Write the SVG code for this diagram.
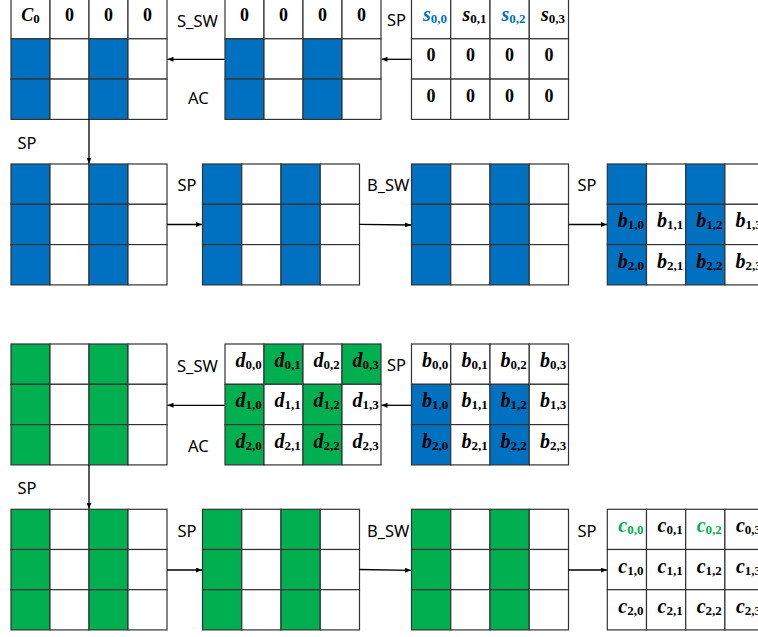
<svg xmlns="http://www.w3.org/2000/svg" width="758" height="637" viewBox="0 0 758 637">
<defs>
<style>
.c{stroke:#333;stroke-width:1.2}
.w{fill:#fff}.b{fill:#0070C0}.g{fill:#00B050}
.lbl{font-family:"Noto Sans","Liberation Sans",sans-serif;font-size:16.5px;fill:#000}
.m{font-family:"Liberation Serif",serif;font-weight:bold;font-size:20px;text-anchor:middle;fill:#000}
.m .v{font-style:italic}
.m .s{font-size:13px}
.z{font-family:"Liberation Serif",serif;font-weight:bold;font-size:18px;text-anchor:middle;fill:#000}
.tb{fill:#0070C0}.tg{fill:#00B050}
.conn path{stroke:#000;stroke-width:1.3;fill:none;marker-end:url(#ah)}
</style>
<marker id="ah" markerWidth="6" markerHeight="5" refX="6" refY="2.5" orient="auto" markerUnits="userSpaceOnUse"><path d="M0,0 L6,2.5 L0,5 z" fill="#000"/></marker>
</defs>
<rect width="758" height="637" fill="#fff"/>

<!-- Row 1 -->
<g id="top-acc">
<rect class="c w" x="11" y="-1.5" width="39" height="40.3"/><rect class="c w" x="50" y="-1.5" width="39" height="40.3"/><rect class="c w" x="89" y="-1.5" width="39" height="40.3"/><rect class="c w" x="128" y="-1.5" width="39" height="40.3"/>
<rect class="c b" x="11" y="38.8" width="39" height="40.3"/><rect class="c w" x="50" y="38.8" width="39" height="40.3"/><rect class="c b" x="89" y="38.8" width="39" height="40.3"/><rect class="c w" x="128" y="38.8" width="39" height="40.3"/>
<rect class="c b" x="11" y="79.1" width="39" height="40.3"/><rect class="c w" x="50" y="79.1" width="39" height="40.3"/><rect class="c b" x="89" y="79.1" width="39" height="40.3"/><rect class="c w" x="128" y="79.1" width="39" height="40.3"/>
<text class="m" x="30.5" y="21" style="font-size:18px"><tspan class="v">C</tspan><tspan class="s" dy="2">0</tspan></text>
<text class="z" x="69.5" y="21">0</text><text class="z" x="108.5" y="21">0</text><text class="z" x="147.5" y="21">0</text>
</g>
<g id="top-ssw">
<rect class="c w" x="225" y="-1.5" width="39" height="40.3"/><rect class="c w" x="264" y="-1.5" width="39" height="40.3"/><rect class="c w" x="303" y="-1.5" width="39" height="40.3"/><rect class="c w" x="342" y="-1.5" width="39" height="40.3"/>
<rect class="c b" x="225" y="38.8" width="39" height="40.3"/><rect class="c w" x="264" y="38.8" width="39" height="40.3"/><rect class="c b" x="303" y="38.8" width="39" height="40.3"/><rect class="c w" x="342" y="38.8" width="39" height="40.3"/>
<rect class="c b" x="225" y="79.1" width="39" height="40.3"/><rect class="c w" x="264" y="79.1" width="39" height="40.3"/><rect class="c b" x="303" y="79.1" width="39" height="40.3"/><rect class="c w" x="342" y="79.1" width="39" height="40.3"/>
<text class="z" x="244.5" y="21">0</text><text class="z" x="283.5" y="21">0</text><text class="z" x="322.5" y="21">0</text><text class="z" x="361.5" y="21">0</text>
</g>
<g id="top-s">
<rect class="c w" x="411.5" y="-1.5" width="39.25" height="40.3"/><rect class="c w" x="450.75" y="-1.5" width="39.25" height="40.3"/><rect class="c w" x="490" y="-1.5" width="39.25" height="40.3"/><rect class="c w" x="529.25" y="-1.5" width="39.25" height="40.3"/>
<rect class="c w" x="411.5" y="38.8" width="39.25" height="40.3"/><rect class="c w" x="450.75" y="38.8" width="39.25" height="40.3"/><rect class="c w" x="490" y="38.8" width="39.25" height="40.3"/><rect class="c w" x="529.25" y="38.8" width="39.25" height="40.3"/>
<rect class="c w" x="411.5" y="79.1" width="39.25" height="40.3"/><rect class="c w" x="450.75" y="79.1" width="39.25" height="40.3"/><rect class="c w" x="490" y="79.1" width="39.25" height="40.3"/><rect class="c w" x="529.25" y="79.1" width="39.25" height="40.3"/>
<text class="m tb" x="435" y="21"><tspan class="v">s</tspan><tspan class="s" dy="2">0,0</tspan></text>
<text class="m" x="474.5" y="21"><tspan class="v">s</tspan><tspan class="s" dy="2">0,1</tspan></text>
<text class="m tb" x="513.5" y="21"><tspan class="v">s</tspan><tspan class="s" dy="2">0,2</tspan></text>
<text class="m" x="553" y="21"><tspan class="v">s</tspan><tspan class="s" dy="2">0,3</tspan></text>
<text class="z" x="431.1" y="61.3">0</text><text class="z" x="470.4" y="61.3">0</text><text class="z" x="509.6" y="61.3">0</text><text class="z" x="548.9" y="61.3">0</text>
<text class="z" x="431.1" y="101.6">0</text><text class="z" x="470.4" y="101.6">0</text><text class="z" x="509.6" y="101.6">0</text><text class="z" x="548.9" y="101.6">0</text>
</g>

<!-- Row 2 -->
<g id="r2-a">
<rect class="c b" x="11" y="164" width="39" height="40.3"/><rect class="c w" x="50" y="164" width="39" height="40.3"/><rect class="c b" x="89" y="164" width="39" height="40.3"/><rect class="c w" x="128" y="164" width="39" height="40.3"/>
<rect class="c b" x="11" y="204.3" width="39" height="40.3"/><rect class="c w" x="50" y="204.3" width="39" height="40.3"/><rect class="c b" x="89" y="204.3" width="39" height="40.3"/><rect class="c w" x="128" y="204.3" width="39" height="40.3"/>
<rect class="c b" x="11" y="244.6" width="39" height="40.3"/><rect class="c w" x="50" y="244.6" width="39" height="40.3"/><rect class="c b" x="89" y="244.6" width="39" height="40.3"/><rect class="c w" x="128" y="244.6" width="39" height="40.3"/>
</g>
<g id="r2-b">
<rect class="c b" x="202.5" y="164" width="39.25" height="40.3"/><rect class="c w" x="241.75" y="164" width="39.25" height="40.3"/><rect class="c b" x="281" y="164" width="39.25" height="40.3"/><rect class="c w" x="320.25" y="164" width="39.25" height="40.3"/>
<rect class="c b" x="202.5" y="204.3" width="39.25" height="40.3"/><rect class="c w" x="241.75" y="204.3" width="39.25" height="40.3"/><rect class="c b" x="281" y="204.3" width="39.25" height="40.3"/><rect class="c w" x="320.25" y="204.3" width="39.25" height="40.3"/>
<rect class="c b" x="202.5" y="244.6" width="39.25" height="40.3"/><rect class="c w" x="241.75" y="244.6" width="39.25" height="40.3"/><rect class="c b" x="281" y="244.6" width="39.25" height="40.3"/><rect class="c w" x="320.25" y="244.6" width="39.25" height="40.3"/>
</g>
<g id="r2-c">
<rect class="c b" x="411.5" y="164" width="39.25" height="40.3"/><rect class="c w" x="450.75" y="164" width="39.25" height="40.3"/><rect class="c b" x="490" y="164" width="39.25" height="40.3"/><rect class="c w" x="529.25" y="164" width="39.25" height="40.3"/>
<rect class="c b" x="411.5" y="204.3" width="39.25" height="40.3"/><rect class="c w" x="450.75" y="204.3" width="39.25" height="40.3"/><rect class="c b" x="490" y="204.3" width="39.25" height="40.3"/><rect class="c w" x="529.25" y="204.3" width="39.25" height="40.3"/>
<rect class="c b" x="411.5" y="244.6" width="39.25" height="40.3"/><rect class="c w" x="450.75" y="244.6" width="39.25" height="40.3"/><rect class="c b" x="490" y="244.6" width="39.25" height="40.3"/><rect class="c w" x="529.25" y="244.6" width="39.25" height="40.3"/>
</g>
<g id="r2-d">
<rect class="c b" x="607.3" y="164" width="39.2" height="40.3"/><rect class="c w" x="646.5" y="164" width="39.2" height="40.3"/><rect class="c b" x="685.7" y="164" width="39.2" height="40.3"/><rect class="c w" x="724.9" y="164" width="39.2" height="40.3"/>
<rect class="c b" x="607.3" y="204.3" width="39.2" height="40.3"/><rect class="c w" x="646.5" y="204.3" width="39.2" height="40.3"/><rect class="c b" x="685.7" y="204.3" width="39.2" height="40.3"/><rect class="c w" x="724.9" y="204.3" width="39.2" height="40.3"/>
<rect class="c b" x="607.3" y="244.6" width="39.2" height="40.3"/><rect class="c w" x="646.5" y="244.6" width="39.2" height="40.3"/><rect class="c b" x="685.7" y="244.6" width="39.2" height="40.3"/><rect class="c w" x="724.9" y="244.6" width="39.2" height="40.3"/>
<text class="m" x="630.9" y="227.3"><tspan class="v">b</tspan><tspan class="s" dy="2">1,0</tspan></text>
<text class="m" x="670.1" y="227.3"><tspan class="v">b</tspan><tspan class="s" dy="2">1,1</tspan></text>
<text class="m" x="709.3" y="227.3"><tspan class="v">b</tspan><tspan class="s" dy="2">1,2</tspan></text>
<text class="m" x="748.5" y="227.3"><tspan class="v">b</tspan><tspan class="s" dy="2">1,3</tspan></text>
<text class="m" x="630.9" y="267.6"><tspan class="v">b</tspan><tspan class="s" dy="2">2,0</tspan></text>
<text class="m" x="670.1" y="267.6"><tspan class="v">b</tspan><tspan class="s" dy="2">2,1</tspan></text>
<text class="m" x="709.3" y="267.6"><tspan class="v">b</tspan><tspan class="s" dy="2">2,2</tspan></text>
<text class="m" x="748.5" y="267.6"><tspan class="v">b</tspan><tspan class="s" dy="2">2,3</tspan></text>
</g>

<!-- Row 3 -->
<g id="r3-a">
<rect class="c g" x="11" y="344" width="39" height="40.3"/><rect class="c w" x="50" y="344" width="39" height="40.3"/><rect class="c g" x="89" y="344" width="39" height="40.3"/><rect class="c w" x="128" y="344" width="39" height="40.3"/>
<rect class="c g" x="11" y="384.3" width="39" height="40.3"/><rect class="c w" x="50" y="384.3" width="39" height="40.3"/><rect class="c g" x="89" y="384.3" width="39" height="40.3"/><rect class="c w" x="128" y="384.3" width="39" height="40.3"/>
<rect class="c g" x="11" y="424.6" width="39" height="40.3"/><rect class="c w" x="50" y="424.6" width="39" height="40.3"/><rect class="c g" x="89" y="424.6" width="39" height="40.3"/><rect class="c w" x="128" y="424.6" width="39" height="40.3"/>
</g>
<g id="r3-d">
<rect class="c w" x="225" y="344" width="39" height="40.3"/><rect class="c g" x="264" y="344" width="39" height="40.3"/><rect class="c w" x="303" y="344" width="39" height="40.3"/><rect class="c g" x="342" y="344" width="39" height="40.3"/>
<rect class="c g" x="225" y="384.3" width="39" height="40.3"/><rect class="c w" x="264" y="384.3" width="39" height="40.3"/><rect class="c g" x="303" y="384.3" width="39" height="40.3"/><rect class="c w" x="342" y="384.3" width="39" height="40.3"/>
<rect class="c g" x="225" y="424.6" width="39" height="40.3"/><rect class="c w" x="264" y="424.6" width="39" height="40.3"/><rect class="c g" x="303" y="424.6" width="39" height="40.3"/><rect class="c w" x="342" y="424.6" width="39" height="40.3"/>
<text class="m" x="248.5" y="367"><tspan class="v">d</tspan><tspan class="s" dy="2">0,0</tspan></text>
<text class="m" x="287.5" y="367"><tspan class="v">d</tspan><tspan class="s" dy="2">0,1</tspan></text>
<text class="m" x="326.5" y="367"><tspan class="v">d</tspan><tspan class="s" dy="2">0,2</tspan></text>
<text class="m" x="365.5" y="367"><tspan class="v">d</tspan><tspan class="s" dy="2">0,3</tspan></text>
<text class="m" x="248.5" y="407.3"><tspan class="v">d</tspan><tspan class="s" dy="2">1,0</tspan></text>
<text class="m" x="287.5" y="407.3"><tspan class="v">d</tspan><tspan class="s" dy="2">1,1</tspan></text>
<text class="m" x="326.5" y="407.3"><tspan class="v">d</tspan><tspan class="s" dy="2">1,2</tspan></text>
<text class="m" x="365.5" y="407.3"><tspan class="v">d</tspan><tspan class="s" dy="2">1,3</tspan></text>
<text class="m" x="248.5" y="447.6"><tspan class="v">d</tspan><tspan class="s" dy="2">2,0</tspan></text>
<text class="m" x="287.5" y="447.6"><tspan class="v">d</tspan><tspan class="s" dy="2">2,1</tspan></text>
<text class="m" x="326.5" y="447.6"><tspan class="v">d</tspan><tspan class="s" dy="2">2,2</tspan></text>
<text class="m" x="365.5" y="447.6"><tspan class="v">d</tspan><tspan class="s" dy="2">2,3</tspan></text>
</g>
<g id="r3-b">
<rect class="c w" x="411.5" y="344" width="39.25" height="40.3"/><rect class="c w" x="450.75" y="344" width="39.25" height="40.3"/><rect class="c w" x="490" y="344" width="39.25" height="40.3"/><rect class="c w" x="529.25" y="344" width="39.25" height="40.3"/>
<rect class="c b" x="411.5" y="384.3" width="39.25" height="40.3"/><rect class="c w" x="450.75" y="384.3" width="39.25" height="40.3"/><rect class="c b" x="490" y="384.3" width="39.25" height="40.3"/><rect class="c w" x="529.25" y="384.3" width="39.25" height="40.3"/>
<rect class="c b" x="411.5" y="424.6" width="39.25" height="40.3"/><rect class="c w" x="450.75" y="424.6" width="39.25" height="40.3"/><rect class="c b" x="490" y="424.6" width="39.25" height="40.3"/><rect class="c w" x="529.25" y="424.6" width="39.25" height="40.3"/>
<text class="m" x="435" y="367"><tspan class="v">b</tspan><tspan class="s" dy="2">0,0</tspan></text>
<text class="m" x="474.5" y="367"><tspan class="v">b</tspan><tspan class="s" dy="2">0,1</tspan></text>
<text class="m" x="513.5" y="367"><tspan class="v">b</tspan><tspan class="s" dy="2">0,2</tspan></text>
<text class="m" x="553" y="367"><tspan class="v">b</tspan><tspan class="s" dy="2">0,3</tspan></text>
<text class="m" x="435" y="407.3"><tspan class="v">b</tspan><tspan class="s" dy="2">1,0</tspan></text>
<text class="m" x="474.5" y="407.3"><tspan class="v">b</tspan><tspan class="s" dy="2">1,1</tspan></text>
<text class="m" x="513.5" y="407.3"><tspan class="v">b</tspan><tspan class="s" dy="2">1,2</tspan></text>
<text class="m" x="553" y="407.3"><tspan class="v">b</tspan><tspan class="s" dy="2">1,3</tspan></text>
<text class="m" x="435" y="447.6"><tspan class="v">b</tspan><tspan class="s" dy="2">2,0</tspan></text>
<text class="m" x="474.5" y="447.6"><tspan class="v">b</tspan><tspan class="s" dy="2">2,1</tspan></text>
<text class="m" x="513.5" y="447.6"><tspan class="v">b</tspan><tspan class="s" dy="2">2,2</tspan></text>
<text class="m" x="553" y="447.6"><tspan class="v">b</tspan><tspan class="s" dy="2">2,3</tspan></text>
</g>

<!-- Row 4 -->
<g id="r4-a">
<rect class="c g" x="11" y="509.3" width="39" height="40.2"/><rect class="c w" x="50" y="509.3" width="39" height="40.2"/><rect class="c g" x="89" y="509.3" width="39" height="40.2"/><rect class="c w" x="128" y="509.3" width="39" height="40.2"/>
<rect class="c g" x="11" y="549.5" width="39" height="40.2"/><rect class="c w" x="50" y="549.5" width="39" height="40.2"/><rect class="c g" x="89" y="549.5" width="39" height="40.2"/><rect class="c w" x="128" y="549.5" width="39" height="40.2"/>
<rect class="c g" x="11" y="589.7" width="39" height="40.2"/><rect class="c w" x="50" y="589.7" width="39" height="40.2"/><rect class="c g" x="89" y="589.7" width="39" height="40.2"/><rect class="c w" x="128" y="589.7" width="39" height="40.2"/>
</g>
<g id="r4-b">
<rect class="c g" x="202.5" y="509.3" width="39.25" height="40.2"/><rect class="c w" x="241.75" y="509.3" width="39.25" height="40.2"/><rect class="c g" x="281" y="509.3" width="39.25" height="40.2"/><rect class="c w" x="320.25" y="509.3" width="39.25" height="40.2"/>
<rect class="c g" x="202.5" y="549.5" width="39.25" height="40.2"/><rect class="c w" x="241.75" y="549.5" width="39.25" height="40.2"/><rect class="c g" x="281" y="549.5" width="39.25" height="40.2"/><rect class="c w" x="320.25" y="549.5" width="39.25" height="40.2"/>
<rect class="c g" x="202.5" y="589.7" width="39.25" height="40.2"/><rect class="c w" x="241.75" y="589.7" width="39.25" height="40.2"/><rect class="c g" x="281" y="589.7" width="39.25" height="40.2"/><rect class="c w" x="320.25" y="589.7" width="39.25" height="40.2"/>
</g>
<g id="r4-c">
<rect class="c g" x="411.5" y="509.3" width="39.25" height="40.2"/><rect class="c w" x="450.75" y="509.3" width="39.25" height="40.2"/><rect class="c g" x="490" y="509.3" width="39.25" height="40.2"/><rect class="c w" x="529.25" y="509.3" width="39.25" height="40.2"/>
<rect class="c g" x="411.5" y="549.5" width="39.25" height="40.2"/><rect class="c w" x="450.75" y="549.5" width="39.25" height="40.2"/><rect class="c g" x="490" y="549.5" width="39.25" height="40.2"/><rect class="c w" x="529.25" y="549.5" width="39.25" height="40.2"/>
<rect class="c g" x="411.5" y="589.7" width="39.25" height="40.2"/><rect class="c w" x="450.75" y="589.7" width="39.25" height="40.2"/><rect class="c g" x="490" y="589.7" width="39.25" height="40.2"/><rect class="c w" x="529.25" y="589.7" width="39.25" height="40.2"/>
</g>
<g id="r4-d">
<rect class="c w" x="607.3" y="509.3" width="39.2" height="40.2"/><rect class="c w" x="646.5" y="509.3" width="39.2" height="40.2"/><rect class="c w" x="685.7" y="509.3" width="39.2" height="40.2"/><rect class="c w" x="724.9" y="509.3" width="39.2" height="40.2"/>
<rect class="c w" x="607.3" y="549.5" width="39.2" height="40.2"/><rect class="c w" x="646.5" y="549.5" width="39.2" height="40.2"/><rect class="c w" x="685.7" y="549.5" width="39.2" height="40.2"/><rect class="c w" x="724.9" y="549.5" width="39.2" height="40.2"/>
<rect class="c w" x="607.3" y="589.7" width="39.2" height="40.2"/><rect class="c w" x="646.5" y="589.7" width="39.2" height="40.2"/><rect class="c w" x="685.7" y="589.7" width="39.2" height="40.2"/><rect class="c w" x="724.9" y="589.7" width="39.2" height="40.2"/>
<text class="m tg" x="630.9" y="532.3"><tspan class="v">c</tspan><tspan class="s" dy="2">0,0</tspan></text>
<text class="m" x="670.1" y="532.3"><tspan class="v">c</tspan><tspan class="s" dy="2">0,1</tspan></text>
<text class="m tg" x="709.3" y="532.3"><tspan class="v">c</tspan><tspan class="s" dy="2">0,2</tspan></text>
<text class="m" x="748.5" y="532.3"><tspan class="v">c</tspan><tspan class="s" dy="2">0,3</tspan></text>
<text class="m" x="630.9" y="572.5"><tspan class="v">c</tspan><tspan class="s" dy="2">1,0</tspan></text>
<text class="m" x="670.1" y="572.5"><tspan class="v">c</tspan><tspan class="s" dy="2">1,1</tspan></text>
<text class="m" x="709.3" y="572.5"><tspan class="v">c</tspan><tspan class="s" dy="2">1,2</tspan></text>
<text class="m" x="748.5" y="572.5"><tspan class="v">c</tspan><tspan class="s" dy="2">1,3</tspan></text>
<text class="m" x="630.9" y="612.7"><tspan class="v">c</tspan><tspan class="s" dy="2">2,0</tspan></text>
<text class="m" x="670.1" y="612.7"><tspan class="v">c</tspan><tspan class="s" dy="2">2,1</tspan></text>
<text class="m" x="709.3" y="612.7"><tspan class="v">c</tspan><tspan class="s" dy="2">2,2</tspan></text>
<text class="m" x="748.5" y="612.7"><tspan class="v">c</tspan><tspan class="s" dy="2">2,3</tspan></text>
</g>

<g id="connectors" class="conn">
<path d="M225,59.3 L167.5,59.3"/>
<path d="M411.5,59.3 L381.5,59.3"/>
<path d="M89,119.4 L89,163.5"/>
<path d="M167,224.5 L202,224.5"/>
<path d="M359.5,224.3 L411,225"/>
<path d="M568.5,224.5 L606.8,224.5"/>
<path d="M225,405.3 L167.5,405.3"/>
<path d="M411.5,405.3 L381.5,405.3"/>
<path d="M89,465 L89,508.8"/>
<path d="M167,570 L202,570"/>
<path d="M359.5,569.5 L411,570.3"/>
<path d="M568.5,570 L606.8,570"/>
</g>

<g id="labels">
<text class="lbl" x="177" y="27">S_SW</text>
<text class="lbl" x="188" y="104">AC</text>
<text class="lbl" x="17.5" y="148.5">SP</text>
<text class="lbl" x="387" y="26">SP</text>
<text class="lbl" x="177.5" y="191">SP</text>
<text class="lbl" x="367" y="191">B_SW</text>
<text class="lbl" x="577.5" y="191">SP</text>
<text class="lbl" x="177" y="372">S_SW</text>
<text class="lbl" x="188" y="452">AC</text>
<text class="lbl" x="387" y="371">SP</text>
<text class="lbl" x="17.5" y="494">SP</text>
<text class="lbl" x="177.5" y="537">SP</text>
<text class="lbl" x="367" y="537">B_SW</text>
<text class="lbl" x="577.5" y="537">SP</text>
</g>
</svg>
